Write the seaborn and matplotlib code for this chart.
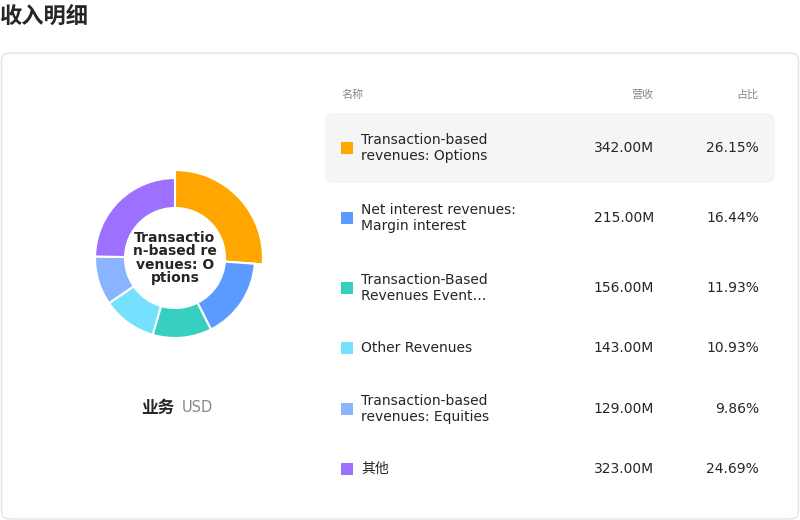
import matplotlib
matplotlib.use("Agg")
import matplotlib.pyplot as plt
import seaborn as sns
from matplotlib.patches import FancyBboxPatch, Rectangle

sns.set_theme(style="white")
plt.rcParams['font.family'] = ['DejaVu Sans', 'Noto Sans CJK SC']

names = ["Transaction-based\nrevenues: Options", "Net interest revenues:\nMargin interest",
         "Transaction-Based\nRevenues Event…", "Other Revenues",
         "Transaction-based\nrevenues: Equities", "其他"]
revenues = [342.00, 215.00, 156.00, 143.00, 129.00, 323.00]
shares = ["26.15%", "16.44%", "11.93%", "10.93%", "9.86%", "24.69%"]
colors = ["#FFA600", "#5B9BFF", "#36CFC0", "#75E1FF", "#8AB4FF", "#9E70FF"]
center_label = "Transactio\nn-based re\nvenues: O\nptions"

fig = plt.figure(figsize=(8, 5.2), dpi=100)
ax = fig.add_axes([0, 0, 1, 1])
ax.set_xlim(0, 800); ax.set_ylim(520, 0); ax.axis("off")

fig.text(0, 1 - 16/520, "收入明细", fontsize=16, fontweight="bold", va="center", ha="left")
ax.add_patch(FancyBboxPatch((1.5, 53), 797, 466, boxstyle="round,pad=0,rounding_size=8",
                            fc="white", ec="#e3e3e8", lw=1))

# table
ax.text(341, 95, "名称", fontsize=8, color="#888888", va="center")
ax.text(654, 95, "营收", fontsize=8, color="#888888", va="center", ha="right")
ax.text(759, 95, "占比", fontsize=8, color="#888888", va="center", ha="right")
row_y = [148, 218, 288, 348, 409, 469]
ax.add_patch(FancyBboxPatch((325, 113), 450, 70, boxstyle="round,pad=0,rounding_size=8",
                            fc="#f5f5f5", ec="none"))
for y, n, r, s, c in zip(row_y, names, revenues, shares, colors):
    ax.add_patch(Rectangle((341, y - 6), 12, 12, fc=c, ec="none"))
    ax.text(361, y, n, fontsize=10, va="center", ha="left", linespacing=1.1)
    ax.text(654, y, f"{r:.2f}M", fontsize=10, va="center", ha="right")
    ax.text(759, y, s, fontsize=10, va="center", ha="right")

ax.text(174, 408, "业务", fontsize=12, fontweight="bold", va="center", ha="right")
ax.text(182, 408, "USD", fontsize=10.5, color="#888888", va="center", ha="left")

# donut
pa = fig.add_axes([(175 - 100) / 800, (520 - 258 - 100) / 520, 200 / 800, 200 / 520])
wedges, _ = pa.pie(revenues, colors=colors, radius=80, startangle=90, counterclock=False,
                   wedgeprops=dict(width=30, edgecolor="white", linewidth=1.5))
wedges[0].set_radius(88)
wedges[0].set_width(38)
pa.set_xlim(-100, 100); pa.set_ylim(-100, 100); pa.set_aspect("equal"); pa.axis("off")
pa.text(0, 0, center_label, ha="center", va="center", fontsize=10, fontweight="bold",
        linespacing=0.95)

fig.savefig("out.png", dpi=100)
